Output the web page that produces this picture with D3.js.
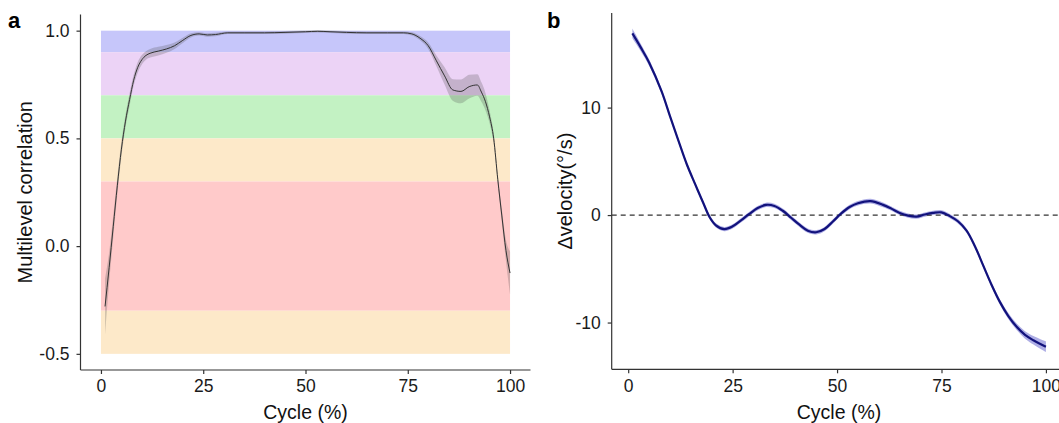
<!DOCTYPE html>
<html>
<head>
<meta charset="utf-8">
<script src="https://cdn.jsdelivr.net/npm/d3@7"></script>
<style>
  body { margin: 0; background: #fff; }
  svg { display: block; font-family: "Liberation Sans", Arial, sans-serif; }
  .axis path, .axis line { stroke: #333; stroke-width: 1.2; }
  .axis text { fill: #1a1a1a; font-size: 17.5px; }
</style>
</head>
<body>
<div id="chart"></div>
<script>
// panel a: multilevel correlation over the cycle
var corrCycle = [1,2,3,4,5,6,7,8,9,10,11,12,14,16,18,20,22,24,26,28,31,35,40,45,50,53,56,60,65,70,74,76,78,80,82,84,86,88,90,92,93,94,95,96,97,98,99,100];
var corrValue = [-0.28,-0.1,0.09,0.28,0.45,0.58,0.68,0.77,0.83,0.865,0.885,0.895,0.905,0.915,0.93,0.955,0.978,0.985,0.98,0.982,0.99,0.99,0.99,0.992,0.995,0.997,0.995,0.992,0.99,0.99,0.99,0.985,0.965,0.93,0.86,0.79,0.725,0.718,0.74,0.748,0.715,0.67,0.6,0.5,0.31,0.14,-0.02,-0.125];
var corrBand  = [0.13,0.07,0.05,0.04,0.035,0.03,0.03,0.025,0.025,0.022,0.02,0.02,0.02,0.018,0.015,0.012,0.01,0.008,0.008,0.008,0.006,0.006,0.006,0.006,0.006,0.006,0.006,0.006,0.006,0.006,0.006,0.008,0.01,0.015,0.025,0.04,0.05,0.055,0.055,0.05,0.045,0.04,0.03,0.025,0.02,0.03,0.05,0.1];

// colored agreement zones behind panel a
var zoneLower = [0.9, 0.7, 0.5, 0.3, -0.3, -0.5];
var zoneUpper = [1.0, 0.9, 0.7, 0.5, 0.3, -0.3];
var zoneFill  = ['#c6c6fa', '#ecd3f6', '#c3f2c3', '#fde9c9', '#ffcaca', '#fde9c9'];

var corrTicksX = [0, 25, 50, 75, 100];
var corrTicksY = [-0.5, 0, 0.5, 1.0];

// panel b: velocity difference
var velCycle = [1,3,5,8,10,12,14,16,18,19.5,21,23,25,27,29,31,33,35,37,39,41,43,45,47,49,51,53,55,58,61,63,65,67,69,71,73,75,77,79,81,83,85,87,89,91,93,95,97,100];
var velValue = [16.9,15.6,14.2,11.5,9.2,6.95,4.75,2.9,1.1,-0.2,-0.95,-1.3,-1.05,-0.5,0.1,0.65,0.95,0.85,0.4,-0.25,-0.9,-1.45,-1.6,-1.3,-0.6,0.15,0.75,1.1,1.3,0.95,0.6,0.2,-0.05,-0.15,0.05,0.2,0.25,-0.1,-0.6,-1.45,-2.9,-4.7,-6.5,-8.1,-9.4,-10.4,-11.15,-11.65,-12.25];
var velBand  = [0.45,0.35,0.3,0.25,0.22,0.2,0.2,0.2,0.2,0.2,0.2,0.2,0.2,0.2,0.2,0.2,0.2,0.2,0.2,0.2,0.2,0.2,0.2,0.2,0.2,0.2,0.2,0.2,0.22,0.22,0.2,0.2,0.2,0.2,0.2,0.2,0.2,0.2,0.2,0.2,0.2,0.22,0.22,0.25,0.28,0.3,0.35,0.4,0.5];

var velTicksX = [0, 25, 50, 75, 100];
var velTicksY = [-10, 0, 10];

var W = 1059, H = 423;
var svg = d3.select('#chart').append('svg').attr('width', W).attr('height', H);

// plain hyphen for negatives, like the original plot
function hyphen(fmt) {
    return function(v) { return fmt(v).replace('\u2212', '-'); };
}

function makeRows(xs, ys, bs) {
    return xs.map(function(x, i) { return { x: x, y: ys[i], lo: ys[i] - bs[i], hi: ys[i] + bs[i] }; });
}

function drawAxes(g, x, y, xTicks, yTicks, yFmt) {
    var xr = x.range(), yr = y.range();
    g.append('g').attr('class', 'axis')
        .attr('transform', 'translate(0,' + yr[0] + ')')
        .call(d3.axisBottom(x).tickValues(xTicks).tickSize(4).tickPadding(6).tickSizeOuter(0))
        .call(function(s) { s.select('.domain').attr('d', 'M' + xr[0] + ',0H' + xr[1]); });
    g.append('g').attr('class', 'axis')
        .attr('transform', 'translate(' + xr[0] + ',0)')
        .call(d3.axisLeft(y).tickValues(yTicks).tickFormat(yFmt).tickSize(4).tickPadding(7).tickSizeOuter(0))
        .call(function(s) { s.select('.domain').attr('d', 'M0,' + yr[0] + 'V' + yr[1]); });
}

var smooth = d3.curveCatmullRom.alpha(0.5);

// ---------- panel a ----------
var ax = d3.scaleLinear().domain([-5, 105]).range([80.5, 530.5]);
var ay = d3.scaleLinear().domain([-0.575, 1.075]).range([370, 14.5]);
var ga = svg.append('g');

ga.selectAll('rect.zone')
    .data(zoneLower)
    .enter().append('rect')
    .attr('class', 'zone')
    .attr('x', ax(0))
    .attr('width', ax(100) - ax(0))
    .attr('y', function(d, i) { return ay(zoneUpper[i]); })
    .attr('height', function(d, i) { return ay(d) - ay(zoneUpper[i]); })
    .attr('fill', function(d, i) { return zoneFill[i]; });

var corrRows = makeRows(corrCycle, corrValue, corrBand);

ga.append('path')
    .datum(corrRows)
    .attr('fill', '#4a4a4a')
    .attr('fill-opacity', 0.25)
    .attr('d', d3.area()
        .x(function(d) { return ax(d.x); })
        .y0(function(d) { return ay(d.lo); })
        .y1(function(d) { return ay(d.hi); })
        .curve(d3.curveMonotoneX));

ga.append('path')
    .datum(corrRows)
    .attr('fill', 'none')
    .attr('stroke', '#333')
    .attr('stroke-width', 1)
    .attr('d', d3.line()
        .x(function(d) { return ax(d.x); })
        .y(function(d) { return ay(d.y); })
        .curve(d3.curveMonotoneX));

drawAxes(ga, ax, ay, corrTicksX, corrTicksY, hyphen(d3.format('.1f')));

ga.append('text')
    .attr('x', (ax.range()[0] + ax.range()[1]) / 2)
    .attr('y', 419)
    .attr('text-anchor', 'middle')
    .attr('font-size', 19.5)
    .attr('fill', '#111')
    .text('Cycle (%)');

ga.append('text')
    .attr('transform', 'translate(32,' + ((ay.range()[0] + ay.range()[1]) / 2) + ') rotate(-90)')
    .attr('text-anchor', 'middle')
    .attr('font-size', 20)
    .attr('fill', '#111')
    .text('Multilevel correlation');

svg.append('text')
    .attr('x', 8).attr('y', 28)
    .attr('font-size', 22).attr('font-weight', 'bold')
    .text('a');

// ---------- panel b ----------
var bx = d3.scaleLinear().domain([-3.95, 104.95]).range([611.7, 1066.6]);
var by = d3.scaleLinear().domain([-14.35, 18.8]).range([369.3, 13]);
var gb = svg.append('g');

var velRows = makeRows(velCycle, velValue, velBand);

gb.append('path')
    .datum(velRows)
    .attr('fill', '#6b6bd0')
    .attr('fill-opacity', 0.55)
    .attr('d', d3.area()
        .x(function(d) { return bx(d.x); })
        .y0(function(d) { return by(d.lo); })
        .y1(function(d) { return by(d.hi); })
        .curve(smooth));

gb.append('line')
    .attr('x1', bx.range()[0]).attr('x2', bx.range()[1])
    .attr('y1', by(0)).attr('y2', by(0))
    .attr('stroke', '#333')
    .attr('stroke-width', 1.3)
    .attr('stroke-dasharray', '5,4');

gb.append('path')
    .datum(velRows)
    .attr('fill', 'none')
    .attr('stroke', '#12127c')
    .attr('stroke-width', 2.2)
    .attr('d', d3.line()
        .x(function(d) { return bx(d.x); })
        .y(function(d) { return by(d.y); })
        .curve(smooth));

drawAxes(gb, bx, by, velTicksX, velTicksY, hyphen(d3.format('d')));

gb.append('text')
    .attr('x', 839)
    .attr('y', 419)
    .attr('text-anchor', 'middle')
    .attr('font-size', 19.5)
    .attr('fill', '#111')
    .text('Cycle (%)');

gb.append('text')
    .attr('transform', 'translate(572,' + ((by.range()[0] + by.range()[1]) / 2) + ') rotate(-90)')
    .attr('text-anchor', 'middle')
    .attr('font-size', 20)
    .attr('fill', '#111')
    .text('\u0394velocity(\u00b0/s)');

svg.append('text')
    .attr('x', 547).attr('y', 28)
    .attr('font-size', 22).attr('font-weight', 'bold')
    .text('b');
</script>
</body>
</html>
